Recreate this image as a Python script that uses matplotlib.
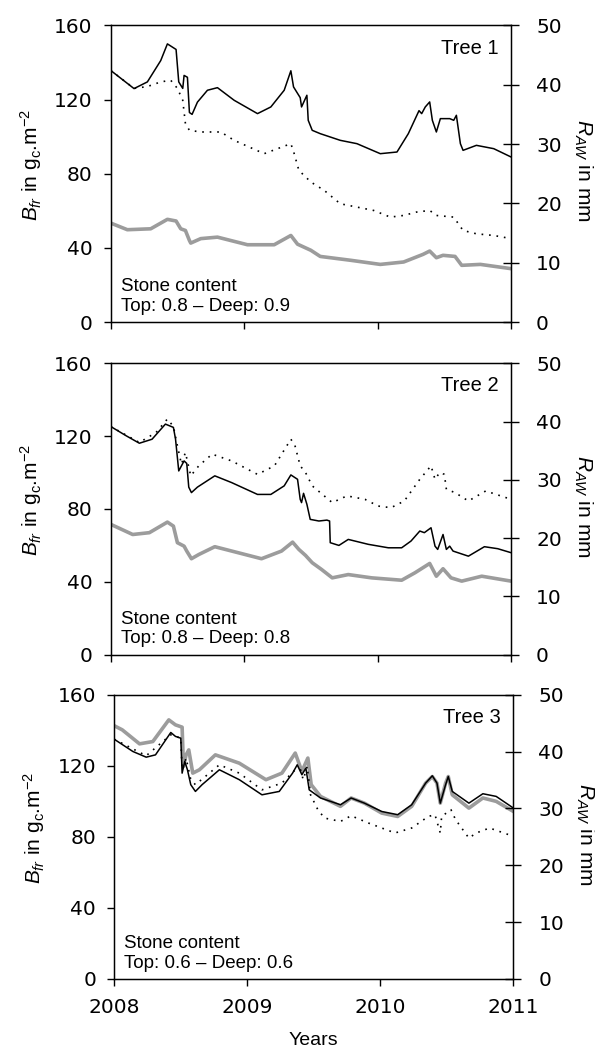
import matplotlib
matplotlib.use('Agg')
import matplotlib.pyplot as plt
from matplotlib import font_manager

# Tree 1
t1_solid = [2008.0, 2008.175, 2008.275, 2008.375, 2008.425, 2008.49, 2008.51, 2008.54, 2008.55, 2008.575,
            2008.59, 2008.61, 2008.65, 2008.725, 2008.8, 2008.925, 2009.1, 2009.2, 2009.3, 2009.35, 2009.37,
            2009.42, 2009.43, 2009.47, 2009.48, 2009.51, 2009.57, 2009.72, 2009.845, 2010.02, 2010.145,
            2010.23, 2010.31, 2010.33, 2010.357, 2010.39, 2010.41, 2010.44, 2010.47, 2010.54, 2010.57,
            2010.59, 2010.62, 2010.64, 2010.74, 2010.87, 2011.0]
b1_solid = [135.7, 125.9, 129.5, 141, 150, 147, 129.5, 126, 133, 132, 113, 112, 118.6, 125, 126.4, 119.6,
            112.4, 116, 125, 135.5, 126.8, 121, 116, 122.3, 108.8, 103.4, 101.6, 98, 96.2, 90.8, 91.7, 101.6,
            114, 112.4, 116, 118.7, 108.8, 102.5, 109.7, 109.7, 108.8, 111.5, 96.2, 92.6, 95.3, 93.5, 89]
t1_dot = [2008.0, 2008.175, 2008.275, 2008.375, 2008.45, 2008.5, 2008.54, 2008.56, 2008.59, 2008.675, 2008.825,
          2008.925, 2009.15, 2009.25, 2009.35, 2009.375, 2009.41, 2009.5, 2009.6, 2009.72, 2009.845, 2009.97,
          2010.095, 2010.195, 2010.29, 2010.39, 2010.44, 2010.57, 2010.64, 2010.74, 2010.87, 2011.0]
b1_dot = [135.7, 126, 127, 129.5, 130.4, 126, 119.6, 107, 103.4, 102.5, 102.5, 98, 90.8, 93.5, 96.2, 90.8,
          81.8, 75.5, 71, 63.8, 62, 60.2, 56.6, 57.5, 59.3, 60.2, 57.5, 56.6, 49.4, 47.6, 46.7, 45]
t1_gray = [2008.0, 2008.125, 2008.3, 2008.425, 2008.49, 2008.525, 2008.56, 2008.59, 2008.6, 2008.675, 2008.8,
           2009.025, 2009.225, 2009.35, 2009.4, 2009.5, 2009.57, 2009.8, 2010.02, 2010.195, 2010.34, 2010.39,
           2010.44, 2010.49, 2010.58, 2010.63, 2010.77, 2011.0]
b1_gray = [53.4, 49.8, 50.3, 55.4, 54.5, 50.3, 49.4, 44, 42.6, 45, 45.8, 41.7, 41.7, 46.7, 42, 38.7, 35.4,
           33.3, 31.1, 32.4, 36.5, 38.3, 34.7, 36, 35.4, 30.6, 31.1, 28.8]

# Tree 2
t2_solid = [2008.0, 2008.116, 2008.215, 2008.31, 2008.41, 2008.47, 2008.486, 2008.51, 2008.55, 2008.57,
            2008.585, 2008.605, 2008.65, 2008.78, 2008.906, 2009.1, 2009.2, 2009.3, 2009.35, 2009.40, 2009.42,
            2009.43, 2009.445, 2009.47, 2009.495, 2009.56, 2009.62, 2009.64, 2009.645, 2009.71, 2009.78,
            2009.93, 2010.08, 2010.18, 2010.25, 2010.316, 2010.35, 2010.4, 2010.43, 2010.45, 2010.49,
            2010.515, 2010.54, 2010.565, 2010.68, 2010.8, 2010.9, 2011.0]
b2_solid = [125.3, 120.2, 116.1, 118.3, 126.6, 124.8, 118.3, 100.9, 106.4, 105, 92, 89, 92, 98.2, 94.5, 88,
            88, 92.7, 98.7, 96.3, 85.3, 83.5, 88.6, 82.6, 74.3, 73.4, 73.9, 73.4, 61.5, 60, 63.3, 60.6, 58.7,
            58.7, 62.4, 67.9, 67, 69.7, 59.6, 57.8, 66, 57.8, 59.6, 56.9, 54.1, 59.3, 58.2, 56]
t2_dot = [2008.0, 2008.215, 2008.34, 2008.425, 2008.47, 2008.5, 2008.53, 2008.56, 2008.6, 2008.66, 2008.76,
          2008.906, 2009.1, 2009.227, 2009.35, 2009.38, 2009.42, 2009.46, 2009.51, 2009.66, 2009.77, 2009.905,
          2010.005, 2010.1, 2010.2, 2010.316, 2010.4, 2010.43, 2010.465, 2010.5, 2010.515, 2010.58, 2010.68,
          2010.81, 2011.0]
b2_dot = [125.3, 116.5, 122, 129.4, 125.3, 114.7, 104.6, 111, 98.2, 103.7, 110.1, 106.4, 99, 103.7, 118.3,
          115, 103.7, 100, 92.7, 83.5, 87.2, 85.3, 81.6, 80.7, 84.4, 96.3, 103.7, 96.3, 100, 99, 90.8, 89,
          84.4, 89.9, 85.3]
t2_gray = [2008.0, 2008.165, 2008.29, 2008.425, 2008.47, 2008.5, 2008.55, 2008.57, 2008.605, 2008.66, 2008.78,
           2008.955, 2009.13, 2009.28, 2009.363, 2009.41, 2009.46, 2009.51, 2009.58, 2009.66, 2009.78, 2009.955,
           2010.18, 2010.28, 2010.39, 2010.44, 2010.49, 2010.55, 2010.63, 2010.78, 2011.0]
b2_gray = [71.6, 66, 67, 72.8, 70.6, 61.5, 59.6, 56.9, 52.7, 55, 59.3, 56, 52.7, 56.9, 61.8, 57.8, 54.5,
           50.5, 46.8, 42.2, 44, 42.2, 40.9, 45, 50.1, 43.1, 47.2, 42.2, 40.4, 43.1, 40.4]

# Tree 3
t3_solid = [2008.0, 2008.14, 2008.24, 2008.31, 2008.425, 2008.46, 2008.5, 2008.51, 2008.53, 2008.55, 2008.575,
            2008.61, 2008.66, 2008.79, 2008.94, 2009.11, 2009.24, 2009.34, 2009.375, 2009.41, 2009.44,
            2009.465, 2009.55, 2009.70, 2009.78, 2009.88, 2010.01, 2010.13, 2010.235, 2010.34, 2010.39,
            2010.425, 2010.45, 2010.49, 2010.51, 2010.54, 2010.665, 2010.77, 2010.87, 2011.0]
b3_solid = [135, 128.1, 124.9, 126.2, 138.8, 136.6, 135.6, 115.9, 122.5, 117.8, 109.4, 105.6, 109.4, 117.8,
            112.2, 103.7, 105.6, 115.9, 120.6, 115, 118.7, 106.5, 101.9, 98.1, 101.9, 99, 94.3, 92.5, 98.1,
            110.3, 114.4, 110.3, 99, 109.4, 114, 105.6, 99, 104.3, 102.8, 96.2]
t3_dot = [2008.0, 2008.24, 2008.425, 2008.5, 2008.51, 2008.54, 2008.575, 2008.61, 2008.79, 2008.94, 2009.11,
          2009.26, 2009.36, 2009.40, 2009.42, 2009.45, 2009.475, 2009.53, 2009.58, 2009.70, 2009.78, 2009.91,
          2010.11, 2010.235, 2010.36, 2010.41, 2010.45, 2010.46, 2010.53, 2010.565, 2010.665, 2010.72,
          2010.82, 2011.0]
b3_dot = [135, 125.7, 137.5, 135.6, 117.8, 124.4, 112.2, 109.4, 120.6, 115.9, 106.5, 110.3, 117.8, 117.8,
          112.2, 119.7, 103.7, 95.3, 90.6, 88.7, 91.9, 87.8, 82.2, 85, 91.5, 92.5, 82.2, 91.5, 95.3, 89.7,
          79.3, 82.2, 85, 80.3]
t3_gray = [2008.0, 2008.06, 2008.19, 2008.29, 2008.41, 2008.46, 2008.51, 2008.52, 2008.54, 2008.56, 2008.59,
           2008.64, 2008.76, 2008.94, 2009.14, 2009.26, 2009.36, 2009.41, 2009.455, 2009.48, 2009.55, 2009.70,
           2009.78, 2009.88, 2010.01, 2010.13, 2010.235, 2010.34, 2010.39, 2010.425, 2010.45, 2010.49,
           2010.51, 2010.54, 2010.665, 2010.77, 2010.87, 2011.0]
b3_gray = [142.6, 140.3, 132.4, 133.7, 145.9, 143.1, 141.8, 119.7, 126.2, 129, 115.9, 117.8, 126.2, 121.5,
           112.2, 115.9, 127.2, 116.9, 124.4, 109.4, 102.8, 97.2, 101.9, 99, 93.4, 91.5, 97.2, 110.3, 114,
           110.3, 99, 110.3, 114, 103.7, 96.2, 101.9, 100, 94.3]

tree_names = ['Tree 1', 'Tree 2', 'Tree 3']
stone_text = ['Stone content\nTop: 0.8 \u2013 Deep: 0.9',
              'Stone content\nTop: 0.8 \u2013 Deep: 0.8',
              'Stone content\nTop: 0.6 \u2013 Deep: 0.6']
year_ticks = [2008, 2009, 2010, 2011]
left_ticks = [0, 40, 80, 120, 160]
right_ticks = [0, 10, 20, 30, 40, 50]

panels = [(t1_solid, b1_solid, t1_dot, b1_dot, t1_gray, b1_gray),
          (t2_solid, b2_solid, t2_dot, b2_dot, t2_gray, b2_gray),
          (t3_solid, b3_solid, t3_dot, b3_dot, t3_gray, b3_gray)]

# narrow font for the annotations if there is one
installed = {f.name for f in font_manager.fontManager.ttflist}
if 'Liberation Sans Narrow' in installed:
    narrow = ['Liberation Sans Narrow', 'DejaVu Sans']
    narrow_size = 15
else:
    narrow = ['Liberation Sans', 'DejaVu Sans']
    narrow_size = 13.5

plt.rcParams['mathtext.fontset'] = 'custom'
plt.rcParams['mathtext.rm'] = 'Liberation Sans'
plt.rcParams['mathtext.it'] = 'Liberation Sans:italic'
gray = '#9c9c9c'

fig = plt.figure(figsize=(5.95, 10.56), dpi=100)
boxes = [[0.186, 0.695, 0.673, 0.281],
         [0.186, 0.380, 0.673, 0.276],
         [0.192, 0.073, 0.671, 0.269]]

for i in range(3):
    ts, bs, td, bd, tg, bg = panels[i]
    ax = fig.add_axes(boxes[i])
    ax.plot(tg, bg, color=gray, lw=2.6)
    ax.plot(td, bd, color='black', lw=1.2, linestyle=(0, (1, 3.5)))
    ax.plot(ts, bs, color='black', lw=1.1)
    ax.set_xlim(2008, 2011)
    ax.set_ylim(0, 160)
    ax.set_yticks(left_ticks)
    ax.set_xticks(year_ticks)
    ax.tick_params(axis='both', direction='out', length=5, width=1, labelsize=14.5, colors='black')
    ax.tick_params(axis='y', pad=8)
    ax.tick_params(axis='x', top=False, pad=9)
    if i < 2:
        ax.set_xticklabels([])
    for s in ax.spines.values():
        s.set_linewidth(1)
    ax.set_ylabel(r'$B_{fr}$ in g$_\mathrm{c}$.m$^{-2}$', fontsize=15, family='Liberation Sans')
    ax.yaxis.set_label_coords(-0.2, 0.53)
    ax.yaxis.label.set(va='center', ha='center', rotation_mode='default')
    ax.text(0.968, 0.955, tree_names[i], transform=ax.transAxes, ha='right', va='top',
            fontsize=narrow_size + 1, family=narrow)
    ax.text(0.025, 0.025, stone_text[i], transform=ax.transAxes, ha='left', va='bottom',
            fontsize=narrow_size, family=narrow, linespacing=1.2)

    ax2 = ax.twinx()
    ax2.set_ylim(0, 50)
    ax2.set_yticks(right_ticks)
    ax2.tick_params(axis='y', direction='inout', length=12, width=1, labelsize=14.5, pad=12)
    ax2.set_ylabel(r'$R_{AW}$ in mm', fontsize=15, family='Liberation Sans', rotation=270)
    ax2.yaxis.set_label_coords(1.18, 0.51)
    ax2.yaxis.label.set(va='center', ha='center', rotation_mode='default')

fig.text(0.527, 0.015, 'Years', ha='center', va='center', fontsize=narrow_size + 0.5, family=narrow)

plt.savefig('out.png', dpi=100)
